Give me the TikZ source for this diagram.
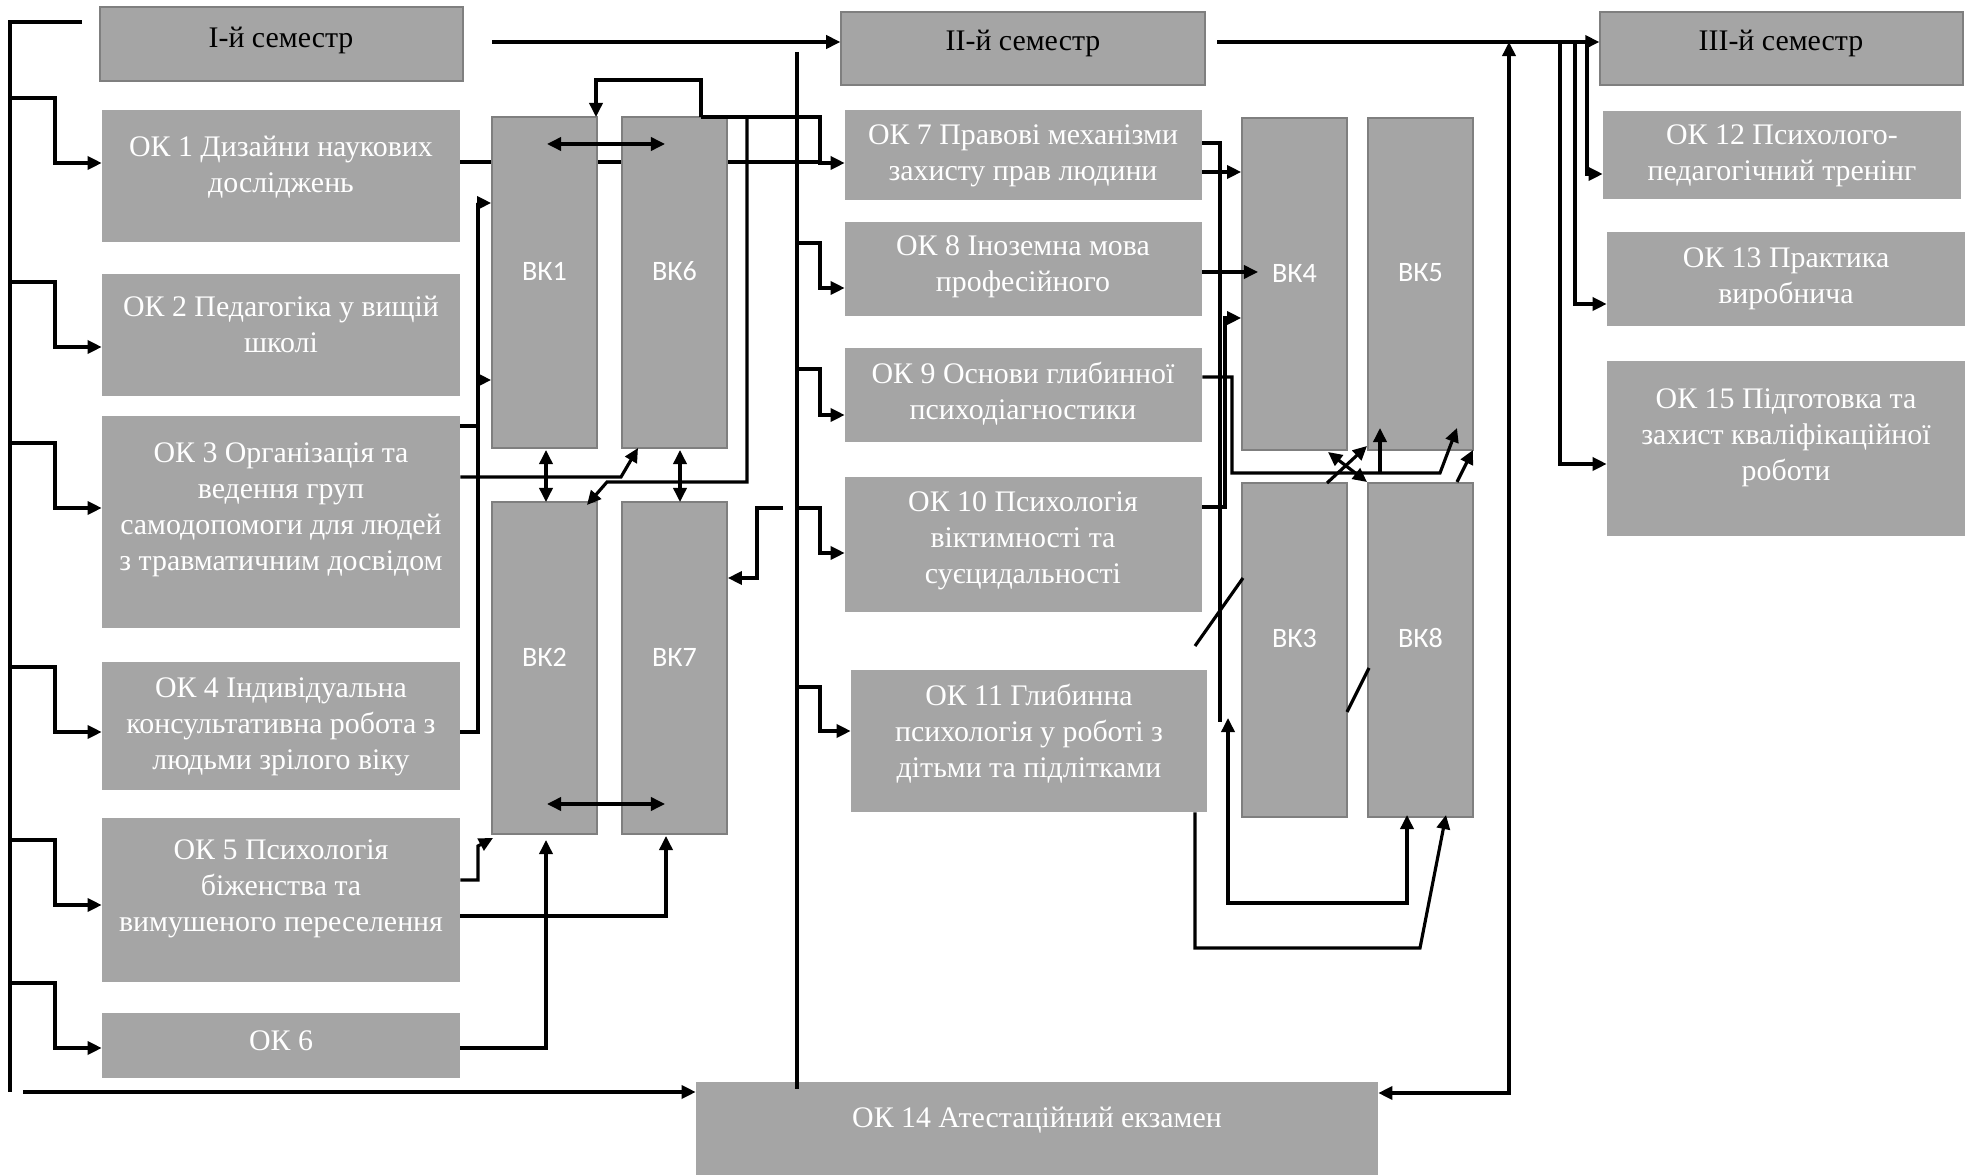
\documentclass[tikz,border=0pt]{standalone}
\usepackage{fontspec}
\setmainfont{Liberation Serif}
\newfontfamily\vkfont{Carlito}
\usetikzlibrary{arrows.meta,fit,backgrounds}
\definecolor{boxgray}{HTML}{A5A5A5}
\definecolor{edgegray}{HTML}{7F7F7F}
\tikzset{
  ok/.style={fill=boxgray, inner sep=0pt},
  sem/.style={ok, draw=edgegray, line width=0.8pt},
  vk/.style={ok, draw=edgegray, line width=1pt},
  oktext/.style={text=white, align=center, font=\fontsize{17}{20.5}\selectfont},
  semtext/.style={text=black, font=\fontsize{17}{20.5}\selectfont},
  vktext/.style={text=white, font=\vkfont\fontsize{16}{19}\selectfont},
  link/.style={line width=1.8pt},
  arr/.style={link, -{Triangle[length=8pt,width=7.5pt]}},
  darr/.style={link, {Triangle[length=8pt,width=7.5pt]}-{Triangle[length=8pt,width=7.5pt]}},
}
\begin{document}
\begin{tikzpicture}[x=0.02cm, y=-0.02cm]
\useasboundingbox (0,0) rectangle (1972,1175);

% semesters
\node[sem, fit={(100,7) (463,81)}] (sem1) {};
\node[sem, fit={(841,12) (1205,85)}] (sem2) {};
\node[sem, fit={(1600,12) (1963,85)}] (sem3) {};
\node[semtext] (sem1t) at (281,40) {І-й семестр};
\node[semtext] (sem2t) at (1023,43) {ІІ-й семестр};
\node[semtext] (sem3t) at (1781,43) {ІІІ-й семестр};

% compulsory courses
\node[ok, fit={(102,110) (460,242)}] (ok1) {};
\node[ok, fit={(102,274) (460,396)}] (ok2) {};
\node[ok, fit={(102,416) (460,628)}] (ok3) {};
\node[ok, fit={(102,662) (460,790)}] (ok4) {};
\node[ok, fit={(102,818) (460,982)}] (ok5) {};
\node[ok, fit={(102,1013) (460,1078)}] (ok6) {};
\node[ok, fit={(845,110) (1202,200)}] (ok7) {};
\node[ok, fit={(845,222) (1202,316)}] (ok8) {};
\node[ok, fit={(845,348) (1202,442)}] (ok9) {};
\node[ok, fit={(845,477) (1202,612)}] (ok10) {};
\node[ok, fit={(851,670) (1207,812)}] (ok11) {};
\node[ok, fit={(1603,111) (1961,199)}] (ok12) {};
\node[ok, fit={(1607,232) (1965,326)}] (ok13) {};
\node[ok, fit={(696,1082) (1378,1175)}] (ok14) {};
\node[ok, fit={(1607,361) (1965,536)}] (ok15) {};

\node[oktext] (ok1t) at (281,167) {ОК 1 Дизайни наукових\\досліджень};
\node[oktext] (ok2t) at (281,324) {ОК 2 Педагогіка у вищій\\школі};
\node[oktext] (ok3t) at (281,510) {ОК 3 Організація та\\ведення груп\\самодопомоги для людей\\з травматичним досвідом};
\node[oktext] (ok4t) at (281,727) {ОК 4 Індивідуальна\\консультативна робота з\\людьми зрілого віку};
\node[oktext] (ok5t) at (281,889) {ОК 5 Психологія\\біженства та\\вимушеного переселення};
\node[oktext] (ok6t) at (281,1041) {ОК 6};
\node[oktext] (ok7t) at (1023,156) {ОК 7 Правові механізми\\захисту прав людини};
\node[oktext] (ok8t) at (1023,267) {ОК 8 Іноземна мова\\професійного};
\node[oktext] (ok9t) at (1023,394) {ОК 9 Основи глибинної\\психодіагностики};
\node[oktext] (ok10t) at (1023,541) {ОК 10 Психологія\\віктимності та\\суєцидальності};
\node[oktext] (ok11t) at (1029,734) {ОК 11 Глибинна\\психологія у роботі з\\дітьми та підлітками};
\node[oktext] (ok12t) at (1782,156) {ОК 12 Психолого-\\педагогічний тренінг};
\node[oktext] (ok13t) at (1786,279) {ОК 13 Практика\\виробнича};
\node[oktext] (ok14t) at (1037,1120) {ОК 14 Атестаційний екзамен};
\node[oktext] (ok15t) at (1786,438) {ОК 15 Підготовка та\\захист кваліфікаційної\\роботи};

% elective courses
\foreach \n/\xa/\ya/\xb/\yb/\ty in {1/492/117/597/448/271, 6/622/117/727/448/271,
    2/492/502/597/834/657, 7/622/502/727/834/657, 4/1242/118/1347/450/273,
    5/1368/118/1473/450/273, 3/1242/483/1347/817/638, 8/1368/483/1473/817/638}{
  \node[vk, fit={(\xa,\ya) (\xb,\yb)}] (vk\n) {};
  \node[vktext] (vkt\n) at ({(\xa+\xb)/2},\ty) {ВК\n};
}

\begin{pgfonlayer}{background}
\draw[link] (ok1.east |- 0,162) -- (820,162);
\end{pgfonlayer}

% left spine
\draw[link] (82,22) -- (10,22) -- (10,1092);
\foreach \n/\a/\b in {1/98/163, 2/282/347, 3/443/508, 4/667/732, 5/840/905, 6/983/1048}
  \draw[arr] (10,\a) -- (55,\a) -- (55,\b) -- (ok\n.west |- 0,\b);
\draw[arr] (23,1092) -- (ok14.west |- 0,1092);

% second semester spine
\draw[arr] (492,42) -- (sem2.west |- 0,42);
\draw[link] (797,52) -- (797,1089);
\foreach \n/\a/\b in {8/243/288, 9/369/415, 10/508/553, 11/687/731}
  \draw[arr] (797,\a) -- (820,\a) -- (820,\b) -- (ok\n.west |- 0,\b);
\draw[arr] (701,117) -- (701,80) -- (596,80) -- (596,117);
\draw[arr] (701,117) -- (820,117) -- (820,163) -- (ok7.west |- 0,163);
\draw[arr] (747,117) -- (747,482) -- (607,482) -- (587,505);

% first semester electives
\draw[arr] (ok3.east |- 0,426) -- (478,426) -- (478,203) -- (vk1.west |- 0,203);
\draw[arr] (ok4.east |- 0,732) -- (478,732) -- (478,380) -- (vk1.west |- 0,380);
\draw[arr] (ok3.east |- 0,477) -- (621,477) -- (638,448);
\draw[arr] (ok5.east |- 0,880) -- (478,880) -- (478,846) -- (493,838);
\draw[arr] (ok5.east |- 0,916) -- (666,916) -- (666,836);
\draw[arr] (ok6.east |- 0,1048) -- (546,1048) -- (546,840);
\draw[darr] (547,144) -- (665,144);
\draw[darr] (547,804) -- (665,804);
\draw[darr] (546,450) -- (546,502);
\draw[darr] (680,450) -- (680,502);
\draw[arr] (783,508) -- (757,508) -- (757,578) -- (vk7.east |- 0,578);

% second semester electives
\draw[link] (ok7.east |- 0,143) -- (1220,143) -- (1220,722);
\draw[arr] (ok7.east |- 0,172) -- (vk4.west |- 0,172);
\draw[arr] (ok8.east |- 0,272) -- (1258,272);
\draw[arr] (ok10.east |- 0,507) -- (1225,507) -- (1225,318) -- (vk4.west |- 0,318);
\draw[arr] (ok9.east |- 0,377) -- (1232,377) -- (1232,473) -- (1440,473) -- (1457,428);
\draw[arr] (1380,473) -- (1380,428);
\draw[arr] (1327,483) -- (1367,446);
\draw[darr] (1328,452) -- (1367,482);
\draw[arr] (1457,482) -- (1473,450);
\draw[link] (1195,646) -- (1243,578);
\draw[link] (1347,712) -- (1369,668);
\draw[darr] (1228,718) -- (1228,903) -- (1407,903) -- (1407,815);
\draw[arr] (ok11.south -| 1195,0) -- (1195,948) -- (1420,948) -- (1446,815);

% third semester
\draw[arr] (1217,42) -- (sem3.west |- 0,42);
\draw[darr] (ok14.east |- 0,1093) -- (1509,1093) -- (1509,42);
\draw[arr] (1560,42) -- (1560,464) -- (ok15.west |- 0,464);
\draw[arr] (1575,42) -- (1575,304) -- (ok13.west |- 0,304);
\draw[arr] (1587,42) -- (1587,174) -- (ok12.west |- 0,174);
\end{tikzpicture}
\end{document}
